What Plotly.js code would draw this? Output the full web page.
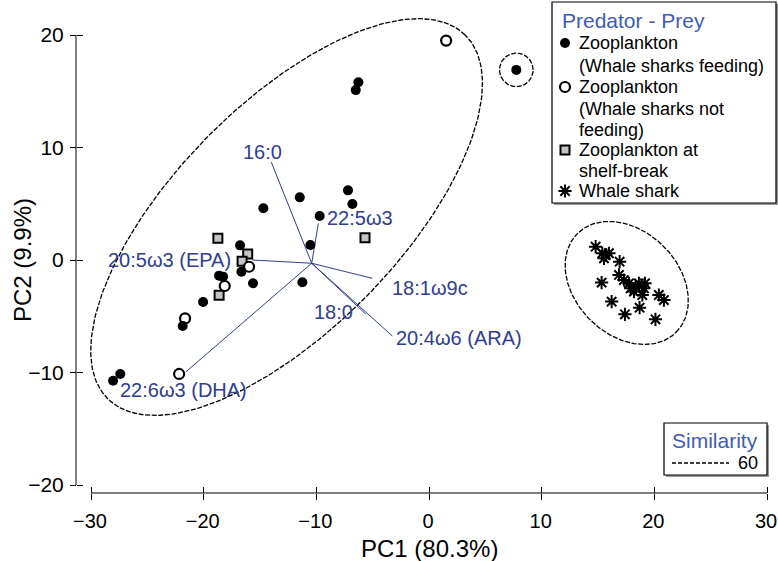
<!DOCTYPE html>
<html><head><meta charset="utf-8">
<script src="https://cdn.plot.ly/plotly-3.0.1.min.js"></script>
<style>html,body{margin:0;padding:0;background:#fff}#chart{width:778px;height:561px}</style>
</head><body><div id="chart"></div>
<script>
// ---- data ----
const feedingX = [7.75, -6.27, -6.5, -7.19, -6.8, -11.47, -14.7, -9.7, -10.53, -16.77, -18.63, -18.28, -16.65, -15.62, -11.24, -20.05, -21.86, -27.4, -28.04];
const feedingY = [16.9, 15.8, 15.1, 6.19, 4.98, 5.57, 4.6, 3.91, 1.33, 1.3, -1.39, -1.48, -1.04, -2.07, -1.98, -3.73, -5.87, -10.13, -10.73];
const notFeedingX = [1.52, -15.97, -18.13, -21.65, -22.18];
const notFeedingY = [19.5, -0.6, -2.31, -5.19, -10.13];
const shelfX = [-18.74, -16.09, -16.59, -18.63, -5.68];
const shelfY = [1.93, 0.53, -0.12, -3.14, 1.98];
const sharkX = [14.79, 15.38, 15.68, 15.97, 15.53, 16.92, 16.86, 17.3, 17.75, 17.9, 18.34, 18.63, 19.17, 19.08, 18.93, 18.19, 15.32, 16.21, 17.39, 18.69, 20.1, 20.4, 20.85];
const sharkY = [1.18, 0.6, 0.44, 0.6, 0.15, -0.15, -1.33, -1.78, -2.07, -2.52, -2.37, -2.07, -2.07, -2.52, -3.11, -2.81, -2.01, -3.7, -4.83, -4.24, -5.27, -3.11, -3.56];

const vecOrigin = [-10.41, -0.29];
const vecNames = ['16:0', '22:5ω3', '20:5ω3 (EPA)', '18:1ω9c', '18:0', '20:4ω6 (ARA)', '22:6ω3 (DHA)'];
const vecX = [-14.0, -9.82, -15.68, -5.03, -5.62, -3.25, -21.6];
const vecY = [8.7, 3.26, 0.0, -1.63, -4.8, -6.76, -9.96];

// similarity (60) ellipses: centre x, centre y, semi-axis a, semi-axis b, angle (deg)
const ellipseCX = [-12.64, 17.55, 7.75];
const ellipseCY = [3.82, -2.04, 16.9];
const ellipseA = [22.65, 6.2, 1.49];
const ellipseB = [10.0, 4.62, 1.49];
const ellipseAngle = [45.6, -45, 0];

const xTicks = [-30, -20, -10, 0, 10, 20, 30];
const yTicks = [-20, -10, 0, 10, 20];

const legendTitle = 'Predator - Prey';
const legendLines = [['Zooplankton', '(Whale sharks feeding)'], ['Zooplankton', '(Whale sharks not', 'feeding)'], ['Zooplankton at', 'shelf-break'], ['Whale shark']];
const simTitle = 'Similarity';
const simValue = '60';

// ---- figure ----
const W = 778, H = 561;
const FONT = 'Liberation Sans, Arial, Helvetica, sans-serif';
const BLUE = '#2f3d94';
const LBLUE = '#3d5cb8';

function ellipse(cx, cy, a, b, ang) {
  const t = ang * Math.PI / 180, xs = [], ys = [];
  for (let i = 0; i <= 240; i++) {
    const u = 2 * Math.PI * i / 240;
    const ex = a * Math.cos(u), ey = b * Math.sin(u);
    xs.push(cx + ex * Math.cos(t) - ey * Math.sin(t));
    ys.push(cy + ex * Math.sin(t) + ey * Math.cos(t));
  }
  return [xs, ys];
}

const traces = [];
for (let i = 0; i < ellipseCX.length; i++) {
  const [ex, ey] = ellipse(ellipseCX[i], ellipseCY[i], ellipseA[i], ellipseB[i], ellipseAngle[i]);
  traces.push({x: ex, y: ey, mode: 'lines', line: {color: 'black', width: 1.3, dash: '5px,1.6px'}, hoverinfo: 'skip'});
}
const vx = [], vy = [];
vecX.forEach((x, i) => { vx.push(vecOrigin[0], x, null); vy.push(vecOrigin[1], vecY[i], null); });
traces.push({x: vx, y: vy, mode: 'lines', line: {color: BLUE, width: 1}, hoverinfo: 'skip'});

const mFill = {symbol: 'circle', size: 10, color: 'black', line: {width: 0}};
const mOpen = {symbol: 'circle', size: 10, color: 'white', line: {color: 'black', width: 2.2}};
const mSq = {symbol: 'square', size: 9, color: '#c4c4c4', line: {color: 'black', width: 2}};
const mAst = {symbol: 'asterisk-open', size: 11, color: 'black', line: {color: 'black', width: 2}};

traces.push({x: shelfX, y: shelfY, mode: 'markers', marker: mSq});
traces.push({x: notFeedingX, y: notFeedingY, mode: 'markers', marker: mOpen});
traces.push({x: feedingX, y: feedingY, mode: 'markers', marker: mFill});
traces.push({x: sharkX, y: sharkY, mode: 'markers', marker: mAst});

// legend keys (pixel overlay axes)
const symX = 565;
const lineYs = [43, 66, 87, 109, 130, 150, 171, 191];
const keyY = [lineYs[0], lineYs[2], lineYs[5], lineYs[7]];
[mFill, mOpen, mSq, mAst].forEach((m, i) => {
  traces.push({x: [symX], y: [keyY[i]], xaxis: 'x2', yaxis: 'y2', mode: 'markers', marker: m, hoverinfo: 'skip'});
});

const annotations = [];
const labOff = [
  {xanchor: 'center', xs: -9, ys: 10},
  {xanchor: 'left', xs: 7, ys: 5},
  {xanchor: 'right', xs: -19, ys: 0},
  {xanchor: 'left', xs: 18, ys: -10},
  {xanchor: 'right', xs: -11, ys: 2},
  {xanchor: 'left', xs: 2, ys: -2},
  {xanchor: 'left', xs: -68, ys: -18}
];
vecNames.forEach((n, i) => {
  const off = labOff[i];
  annotations.push({x: vecX[i], y: vecY[i], xref: 'x', yref: 'y', text: n, showarrow: false,
    xanchor: off.xanchor, yanchor: 'middle', xshift: off.xs, yshift: off.ys,
    font: {family: FONT, size: 20, color: BLUE}});
});
annotations.push({x: 560, y: 20, xref: 'x2', yref: 'y2', text: legendTitle, showarrow: false, xanchor: 'left', yanchor: 'middle', font: {family: FONT, size: 21, color: LBLUE}});
let k = 0;
legendLines.forEach(g => g.forEach(t => {
  annotations.push({x: 578, y: lineYs[k++], xref: 'x2', yref: 'y2', text: t, showarrow: false, xanchor: 'left', yanchor: 'middle', borderpad: 0, font: {family: FONT, size: 18, color: 'black'}});
}));
annotations.push({x: 670, y: 440, xref: 'x2', yref: 'y2', text: simTitle, showarrow: false, xanchor: 'left', yanchor: 'middle', font: {family: FONT, size: 21, color: LBLUE}});
annotations.push({x: 760, y: 463, xref: 'x2', yref: 'y2', text: simValue, showarrow: false, xanchor: 'right', yanchor: 'middle', font: {family: FONT, size: 18, color: 'black'}});
annotations.push({x: 429.5, y: 548, xref: 'x2', yref: 'y2', text: 'PC1 (80.3%)', showarrow: false, xanchor: 'center', yanchor: 'middle', font: {family: FONT, size: 24, color: 'black'}});
annotations.push({x: 22, y: 260, xref: 'x2', yref: 'y2', text: 'PC2 (9.9%)', textangle: -90, showarrow: false, xanchor: 'center', yanchor: 'middle', font: {family: FONT, size: 24, color: 'black'}});

// axis geometry (pixels)
const pxX0 = 91, pxX1 = 767;            // x = -30 .. 30
const pxY0 = 485, pxY1 = 35;            // y = -20 .. 20
const sx = (pxX1 - pxX0) / 60, sy = (pxY0 - pxY1) / 40;
const domL = 79.5, domR = 770, domT = 10, domB = 493;
const xRange = [-30 - (pxX0 - domL) / sx, 30 + (domR - pxX1) / sx];
const yRange = [-20 - (domB - pxY0) / sy, 20 + (pxY1 - domT) / sy];
const xDom = [domL / W, domR / W], yDom = [(H - domB) / H, (H - domT) / H];
const xPos = (H - domB) / H, yPos = 76 / W;

const shapes = [
  {type: 'rect', xref: 'x2', yref: 'y2', x0: 554, y0: 4, x1: 778, y1: 205, line: {width: 0}, fillcolor: '#9a9a9a', layer: 'below'},
  {type: 'rect', xref: 'x2', yref: 'y2', x0: 552, y0: 2, x1: 776, y1: 203, line: {color: 'black', width: 1.2}, fillcolor: 'white', layer: 'below'},
  {type: 'rect', xref: 'x2', yref: 'y2', x0: 666, y0: 425, x1: 769, y1: 477, line: {width: 0}, fillcolor: '#9a9a9a', layer: 'below'},
  {type: 'rect', xref: 'x2', yref: 'y2', x0: 664, y0: 423, x1: 767, y1: 475, line: {color: 'black', width: 1.2}, fillcolor: 'white', layer: 'below'},
  {type: 'line', xref: 'x2', yref: 'y2', x0: 672, y0: 463, x1: 729, y1: 463, line: {color: 'black', width: 1.3, dash: '4px,2px'}},
  // axis lines spanning only the tick range
  {type: 'line', xref: 'x', yref: 'paper', x0: xTicks[0], x1: xTicks[xTicks.length - 1], y0: xPos, y1: xPos, line: {color: 'black', width: 1}},
  {type: 'line', xref: 'paper', yref: 'y', x0: yPos, x1: yPos, y0: yTicks[0], y1: yTicks[yTicks.length - 1], line: {color: 'black', width: 1}}
];

const layout = {
  width: W, height: H, margin: {l: 0, r: 0, t: 0, b: 0},
  paper_bgcolor: 'white', plot_bgcolor: 'rgba(0,0,0,0)', showlegend: false,
  font: {family: FONT},
  xaxis: {domain: xDom, range: xRange, anchor: 'free', position: xPos, showline: false,
    ticks: 'outside', ticklen: 6, tickwidth: 1, tickcolor: 'black', tickvals: xTicks, showgrid: false, zeroline: false,
    tickfont: {family: FONT, size: 20, color: 'black'}, ticklabelstandoff: 4, ticklabelshift: -1, ticklabeloverflow: 'allow', fixedrange: true},
  xaxis3: {overlaying: 'x', range: xRange, anchor: 'free', position: xPos, showline: false, ticks: 'inside', ticklen: 6,
    tickwidth: 1, tickcolor: 'black', tickvals: xTicks, showticklabels: false, showgrid: false, zeroline: false},
  yaxis: {domain: yDom, range: yRange, anchor: 'free', position: yPos, showline: false,
    ticks: 'outside', ticklen: 6, tickwidth: 1, tickcolor: 'black', tickvals: yTicks, showgrid: false, zeroline: false,
    tickfont: {family: FONT, size: 21, color: 'black'}, ticklabelstandoff: 2, ticklabeloverflow: 'allow', fixedrange: true},
  yaxis3: {overlaying: 'y', range: yRange, anchor: 'free', position: yPos, showline: false, ticks: 'inside', ticklen: 6,
    tickwidth: 1, tickcolor: 'black', tickvals: yTicks, showticklabels: false, showgrid: false, zeroline: false},
  xaxis2: {domain: [0, 1], range: [0, W], anchor: 'y2', visible: false, fixedrange: true},
  yaxis2: {domain: [0, 1], range: [H, 0], anchor: 'x2', visible: false, fixedrange: true},
  annotations: annotations, shapes: shapes
};
traces.push({x: [null], y: [null], xaxis: 'x3', yaxis: 'y3', mode: 'markers', hoverinfo: 'skip'});
Plotly.newPlot('chart', traces, layout, {displayModeBar: false, staticPlot: true});
</script></body></html>
